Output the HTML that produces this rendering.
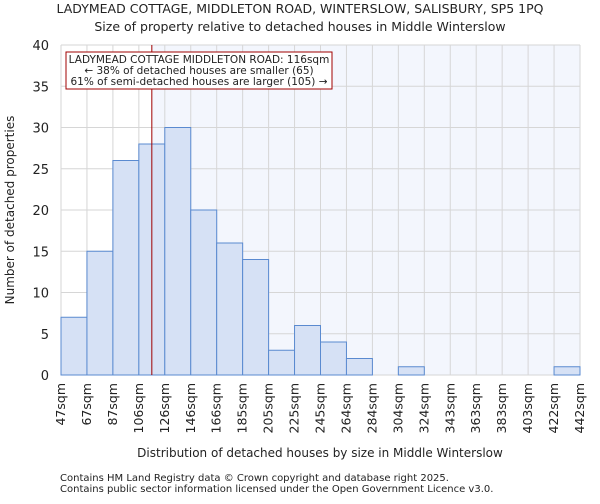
<!DOCTYPE html>
<html><head><meta charset="utf-8"><style>
body{margin:0;background:#fff;font-family:"DejaVu Sans","Liberation Sans",sans-serif;}
svg text{font-family:"DejaVu Sans","Liberation Sans",sans-serif;fill:#222;}
</style></head><body>
<svg id="chart" width="600" height="500" xmlns="http://www.w3.org/2000/svg">
<text x="300" y="13" font-size="12.5" text-anchor="middle">LADYMEAD COTTAGE, MIDDLETON ROAD, WINTERSLOW, SALISBURY, SP5 1PQ</text>
<text x="300" y="31" font-size="12.5" text-anchor="middle">Size of property relative to detached houses in Middle Winterslow</text>
<g id="plot"></g>
<text x="14" y="210" font-size="12" text-anchor="middle" transform="rotate(-90 14 210)">Number of detached properties</text>
<text x="320" y="457" font-size="12" text-anchor="middle">Distribution of detached houses by size in Middle Winterslow</text>
<text x="60" y="481" font-size="10" fill="#444">Contains HM Land Registry data © Crown copyright and database right 2025.</text>
<text x="60" y="492" font-size="10" fill="#444">Contains public sector information licensed under the Open Government Licence v3.0.</text>
</svg>
<script>
const binLabels=["47sqm","67sqm","87sqm","106sqm","126sqm","146sqm","166sqm","185sqm","205sqm","225sqm","245sqm","264sqm","284sqm","304sqm","324sqm","343sqm","363sqm","383sqm","403sqm","422sqm","442sqm"];
const counts=[7,15,26,28,30,20,16,14,3,6,4,2,0,1,0,0,0,0,0,1];
const yTicks=[0,5,10,15,20,25,30,35,40];
const propertySize=116;
const binEdges=[47,67,87,106,126,146,166,185,205,225,245,264,284,304,324,343,363,383,403,422,442];
const NS="http://www.w3.org/2000/svg";
const L=61,R=580,T=45,B=375,yMax=40;
const bw=(R-L)/counts.length;
const y=v=>B-(v/yMax)*(B-T);
const xi=i=>L+i*bw;
function xv(v){for(let i=0;i<binEdges.length-1;i++){if(v<=binEdges[i+1]){return xi(i)+(v-binEdges[i])/(binEdges[i+1]-binEdges[i])*bw;}}return R;}
const g=document.getElementById('plot');
function mk(t,a){const e=document.createElementNS(NS,t);for(const k in a)e.setAttribute(k,a[k]);g.appendChild(e);return e;}
const px=xv(propertySize);
let e=mk('rect',{x:px,y:T,width:R-px,height:B-T,fill:'#f3f6fd'});


for(let i=0;i<=counts.length;i++){e=mk('line',{x1:xi(i),x2:xi(i),y1:T,y2:B,stroke:'#d6d6d6','stroke-width':1});

}
yTicks.forEach(t=>{e=mk('line',{x1:L,x2:R,y1:y(t),y2:y(t),stroke:'#d6d6d6','stroke-width':1});


e=mk('text',{x:L-12,y:y(t)+5,'font-size':13,'text-anchor':'end'});e.textContent=t;

});
counts.forEach((c,i)=>{if(c>0){e=mk('rect',{x:xi(i),y:y(c),width:bw,height:B-y(c),fill:'#d6e1f5',stroke:'#5a8ad0','stroke-width':1});

}});
binLabels.forEach((l,i)=>{const x=xi(i)+4;e=mk('text',{x:x,y:383,'font-size':12.5,'text-anchor':'end',transform:`rotate(-90 ${x} 383)`});e.textContent=l;

});
e=mk('line',{x1:px,x2:px,y1:T,y2:B,stroke:'#a00000','stroke-width':1});


e=mk('rect',{x:66,y:52,width:266,height:37,fill:'#fff',stroke:'#a00000','stroke-width':1});


["LADYMEAD COTTAGE MIDDLETON ROAD: 116sqm","← 38% of detached houses are smaller (65)","61% of semi-detached houses are larger (105) →"].forEach((s,i)=>{e=mk('text',{x:199,y:63+i*11,'font-size':10.5,'text-anchor':'middle'});e.textContent=s;

});
</script>
</body></html>
